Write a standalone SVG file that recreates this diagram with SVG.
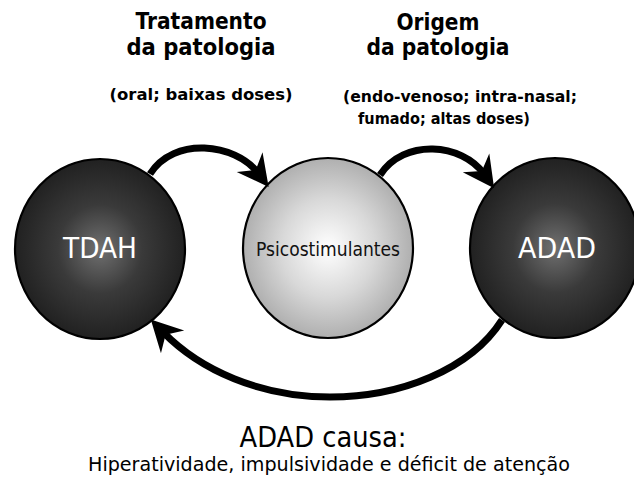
<svg xmlns="http://www.w3.org/2000/svg" width="634" height="481" viewBox="0 0 634 481">
<style>
.t{font-family:"DejaVu Sans","Liberation Sans",sans-serif;}
.b{font-family:"DejaVu Sans","Liberation Sans",sans-serif;font-weight:bold;fill:#000;}
.node{stroke:#000;stroke-width:2.2;}
.conn{fill:none;stroke:#000;stroke-width:7;}
</style>
<defs>
<radialGradient id="gDark" cx="50%" cy="50%" r="55%">
<stop offset="0" stop-color="#707070"/>
<stop offset="0.45" stop-color="#3a3a3a"/>
<stop offset="1" stop-color="#1c1c1c"/>
</radialGradient>
<radialGradient id="gLight" cx="50%" cy="50%" r="55%">
<stop offset="0" stop-color="#ffffff"/>
<stop offset="0.5" stop-color="#d8d8d8"/>
<stop offset="1" stop-color="#a6a6a6"/>
</radialGradient>
<marker id="ah" markerUnits="userSpaceOnUse" orient="auto" markerWidth="40" markerHeight="40" viewBox="-15 -15 32 30" refX="0" refY="0" overflow="visible">
<path d="M14,0 L-11,-13 L-3,0 L-11,13 Z" fill="#000"/>
</marker>
</defs>
<rect width="634" height="481" fill="#fff"/>

<g id="labels-top">
<text class="b" x="201" y="29" font-size="23" text-anchor="middle" textLength="131" lengthAdjust="spacingAndGlyphs">Tratamento</text>
<text class="b" x="201" y="55" font-size="23" text-anchor="middle" textLength="149" lengthAdjust="spacingAndGlyphs">da patologia</text>
<text class="b" x="201" y="100" font-size="15.5" text-anchor="middle" textLength="183" lengthAdjust="spacingAndGlyphs">(oral; baixas doses)</text>
<text class="b" x="438" y="30" font-size="23" text-anchor="middle" textLength="83" lengthAdjust="spacingAndGlyphs">Origem</text>
<text class="b" x="438" y="55" font-size="23" text-anchor="middle" textLength="143" lengthAdjust="spacingAndGlyphs">da patologia</text>
<text class="b" x="460" y="102" font-size="15.5" text-anchor="middle" textLength="234" lengthAdjust="spacingAndGlyphs">(endo-venoso; intra-nasal;</text>
<text class="b" x="444" y="124" font-size="15.5" text-anchor="middle" textLength="172" lengthAdjust="spacingAndGlyphs">fumado; altas doses)</text>
</g>

<g id="TDAH">
<ellipse class="node" cx="100" cy="249" rx="85" ry="90" fill="url(#gDark)"/>
<text class="t" x="100" y="258" font-size="28" fill="#fff" text-anchor="middle" textLength="74" lengthAdjust="spacingAndGlyphs">TDAH</text>
</g>
<g id="Psicostimulantes">
<ellipse class="node" cx="328" cy="248" rx="85" ry="90" fill="url(#gLight)"/>
<text class="t" x="328" y="256" font-size="19" fill="#111" text-anchor="middle" textLength="144" lengthAdjust="spacingAndGlyphs">Psicostimulantes</text>
</g>
<g id="ADAD">
<ellipse class="node" cx="555" cy="248" rx="85" ry="90" fill="url(#gDark)"/>
<text class="t" x="557" y="258" font-size="28" fill="#fff" text-anchor="middle" textLength="78" lengthAdjust="spacingAndGlyphs">ADAD</text>
</g>

<g id="connectors">
<path class="conn" d="M150,174 C174,136 235,143 258,173" marker-end="url(#ah)"/>
<path class="conn" d="M380,175 C404,138 462,143 484,174" marker-end="url(#ah)"/>
<path class="conn" d="M502,320 C470,370 400,397 330,397 C260,397 200,370 163,332" marker-end="url(#ah)"/>
</g>

<g id="caption">
<text class="t" x="323" y="447" font-size="28" fill="#000" text-anchor="middle" textLength="167" lengthAdjust="spacingAndGlyphs">ADAD causa:</text>
<text class="t" x="329" y="471" font-size="19.5" fill="#000" text-anchor="middle" textLength="482" lengthAdjust="spacingAndGlyphs">Hiperatividade, impulsividade e déficit de atenção</text>
</g>
</svg>
